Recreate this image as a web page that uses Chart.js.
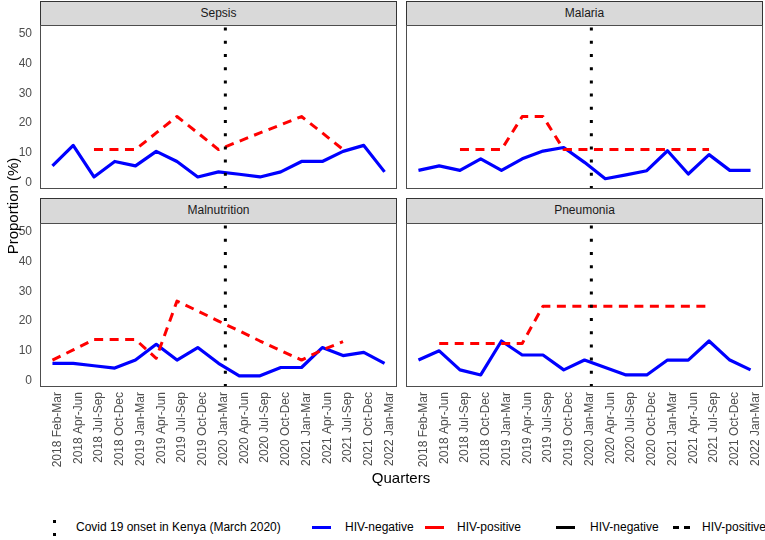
<!DOCTYPE html>
<html>
<head>
<meta charset="utf-8">
<script src="https://cdn.jsdelivr.net/npm/chart.js@4/dist/chart.umd.min.js"></script>
<style>
  html, body { margin: 0; padding: 0; background: #ffffff; }
  body { width: 765px; height: 540px; position: relative; overflow: hidden; font-family: "Liberation Sans", Arial, sans-serif; }
  canvas { position: absolute; }
  .strip { position: absolute; box-sizing: border-box; background: #D9D9D9; border: 1px solid #333333;
           font-size: 12px; color: #1A1A1A; text-align: center; line-height: 23px; }
  .title { position: absolute; color: #000; font-size: 15px; white-space: nowrap; }
  .leg { position: absolute; font-size: 12px; color: #000; white-space: nowrap; top: 519px; line-height: 16px; }
  .key { position: absolute; height: 0; }
</style>
</head>
<body>

<div class="strip" style="left:40px;top:1px;width:357px;height:25px;">Sepsis</div>
<div class="strip" style="left:406px;top:1px;width:357px;height:25px;">Malaria</div>
<div class="strip" style="left:40px;top:198px;width:357px;height:26px;">Malnutrition</div>
<div class="strip" style="left:406px;top:198px;width:357px;height:26px;">Pneumonia</div>

<canvas id="c1" width="397" height="164" style="left:0px;top:25px;"></canvas>
<canvas id="c2" width="357" height="164" style="left:406px;top:25px;"></canvas>
<canvas id="c3" width="397" height="264" style="left:0px;top:223px;"></canvas>
<canvas id="c4" width="357" height="264" style="left:406px;top:223px;"></canvas>

<div class="title" style="left:4px;top:206px;transform:translate(0,-50%) rotate(-90deg);transform-origin:center;width:16px;">
  <div style="position:absolute;left:50%;top:50%;transform:translate(-50%,-50%);">Proportion (%)</div>
</div>
<div class="title" style="left:401px;top:469px;transform:translateX(-50%);">Quarters</div>

<!-- legend -->
<div class="key" style="left:53px;top:520px;width:3px;height:3px;background:#000;"></div>
<div class="key" style="left:53px;top:533px;width:3px;height:3px;background:#000;"></div>
<div class="leg" style="left:76px;">Covid 19 onset in Kenya (March 2020)</div>
<div class="key" style="left:312px;top:526px;width:19px;border-top:3px solid #0000FF;"></div>
<div class="leg" style="left:345px;">HIV-negative</div>
<div class="key" style="left:425px;top:526px;width:19px;border-top:3px solid #FF0000;"></div>
<div class="leg" style="left:457px;">HIV-positive</div>
<div class="key" style="left:556px;top:526px;width:19px;border-top:3px solid #000;"></div>
<div class="leg" style="left:590px;">HIV-negative</div>
<div class="key" style="left:673px;top:526px;width:6px;border-top:3px solid #000;"></div>
<div class="key" style="left:684px;top:526px;width:6px;border-top:3px solid #000;"></div>
<div class="leg" style="left:702px;">HIV-positive</div>

<script>
// ---- data ----
const categories = ["2018 Feb-Mar","2018 Apr-Jun","2018 Jul-Sep","2018 Oct-Dec","2019 Jan-Mar","2019 Apr-Jun","2019 Jul-Sep","2019 Oct-Dec","2020 Jan-Mar","2020 Apr-Jun","2020 Jul-Sep","2020 Oct-Dec","2021 Jan-Mar","2021 Apr-Jun","2021 Jul-Sep","2021 Oct-Dec","2022 Jan-Mar"];
const yTicks = [0, 10, 20, 30, 40, 50];
const covidOnset = 8.33; // position on the quarter axis (March 2020)

const sepsisNeg = [5.6,12.5,1.9,7.1,5.6,10.5,7.1,1.9,3.6,2.8,1.9,3.6,7.1,7.1,10.5,12.5,3.6];
const sepsisPos = [null,null,11.1,11.1,11.1,16.7,22.2,16.7,11.1,13.9,16.7,19.4,22.2,16.7,11.1,null,null];

const malariaNeg = [4.1,5.6,4.1,8.0,4.1,8.0,10.6,11.8,6.8,1.3,2.6,4.0,10.7,2.9,9.4,4.1,4.1];
const malariaPos = [null,null,11.1,11.1,11.1,22.2,22.2,11.1,11.1,11.1,11.1,11.1,11.1,11.1,11.1,null,null];

const malnutritionNeg = [5.8,5.8,5.0,4.2,6.9,12.2,6.9,11.1,5.8,1.6,1.6,4.4,4.4,11.1,8.4,9.5,5.8];
const malnutritionPos = [6.9,10.3,13.8,13.8,13.8,7.5,26.7,23.4,20.0,16.7,13.3,10.1,6.9,10.3,13.1,null,null];

const pneumoniaNeg = [6.9,10.0,3.6,1.9,13.3,8.6,8.6,3.6,6.9,4.4,1.9,1.9,6.9,6.9,13.3,6.9,3.6];
const pneumoniaPos = [null,12.5,12.5,12.5,12.5,12.5,25,25,25,25,25,25,25,25,25,null,null];

// ---- styling / chart building ----
const Y_MIN = -2.15, Y_MAX = 52.95;
const X_MIN = -0.6, X_MAX = categories.length - 1 + 0.6;
const FONT = "'Liberation Sans', Arial, sans-serif";

const panelBorder = {
  id: 'panelBorder',
  afterDraw(chart) {
    const a = chart.chartArea, ctx = chart.ctx;
    ctx.save();
    ctx.strokeStyle = '#4D4D4D';
    ctx.lineWidth = 1;
    ctx.strokeRect(a.left + 0.5, a.top + 0.5, a.right - a.left - 1, a.bottom - a.top - 1);
    ctx.restore();
  }
};

function pts(arr) { return arr.map((v, i) => ({ x: i, y: v })); }

function makePanel(id, neg, pos, showY, showX) {
  new Chart(document.getElementById(id), {
    type: 'line',
    data: {
      datasets: [
        { label: 'Covid 19 onset in Kenya (March 2020)',
          data: [{ x: covidOnset, y: Y_MIN }, { x: covidOnset, y: Y_MAX }],
          borderColor: '#000000', borderWidth: 3, borderDash: [3, 10.2], borderCapStyle: 'butt',
          pointRadius: 0, tension: 0 },
        { label: 'HIV-positive', data: pts(pos), borderColor: '#FF0000', borderWidth: 3,
          borderDash: [9, 6.5], borderCapStyle: 'butt', borderJoinStyle: 'round',
          pointRadius: 0, tension: 0, spanGaps: false },
        { label: 'HIV-negative', data: pts(neg), borderColor: '#0000FF', borderWidth: 3.2,
          borderCapStyle: 'butt', borderJoinStyle: 'round', pointRadius: 0, tension: 0, spanGaps: false }
      ]
    },
    options: {
      responsive: false, animation: false, devicePixelRatio: 1,
      layout: { padding: 0 },
      plugins: { legend: { display: false }, tooltip: { enabled: false } },
      scales: {
        x: {
          type: 'linear', min: X_MIN, max: X_MAX,
          display: showX,
          grid: { display: false, drawTicks: false },
          border: { display: false },
          afterBuildTicks: s => { s.ticks = categories.map((c, i) => ({ value: i })); },
          afterFit: s => {
            if (showX) s.height = 100;
            s.paddingLeft = 0; s.paddingRight = 0; s.paddingTop = 0; s.paddingBottom = 0;
          },
          ticks: {
            autoSkip: false, minRotation: 90, maxRotation: 90, padding: 5, labelOffset: 5,
            color: '#4D4D4D', font: { family: FONT, size: 12 },
            callback: (v) => categories[Math.round(v)]
          }
        },
        y: {
          type: 'linear', min: Y_MIN, max: Y_MAX,
          display: showY,
          grid: { display: false, drawTicks: false },
          border: { display: false },
          afterBuildTicks: s => { s.ticks = yTicks.map(v => ({ value: v })); },
          afterFit: s => {
            if (showY) s.width = 40;
            s.paddingLeft = 0; s.paddingRight = 0; s.paddingTop = 0; s.paddingBottom = 0;
          },
          ticks: { padding: 8, color: '#4D4D4D', font: { family: FONT, size: 12 } }
        }
      }
    },
    plugins: [panelBorder]
  });
}

makePanel('c1', sepsisNeg, sepsisPos, true, false);
makePanel('c2', malariaNeg, malariaPos, false, false);
makePanel('c3', malnutritionNeg, malnutritionPos, true, true);
makePanel('c4', pneumoniaNeg, pneumoniaPos, false, true);
</script>
</body>
</html>
